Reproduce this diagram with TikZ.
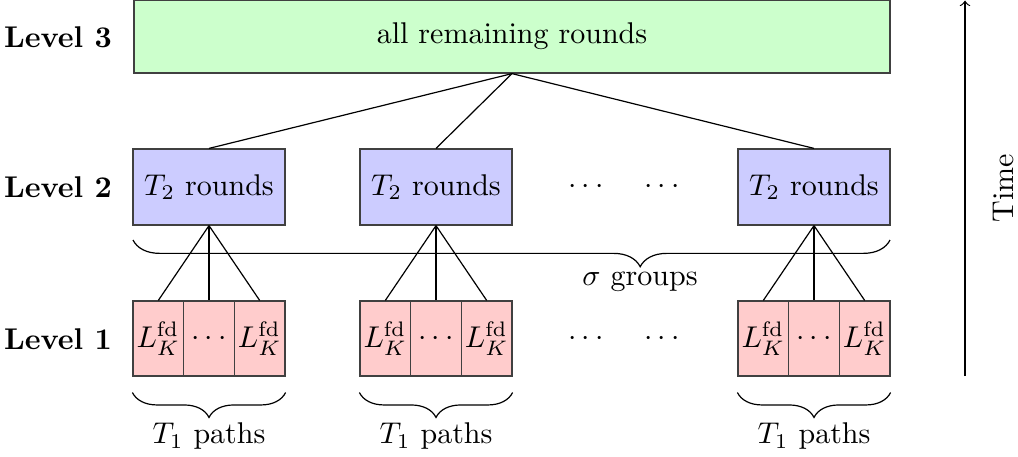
\documentclass[tikz,border=0pt]{standalone}
\usetikzlibrary{decorations.pathreplacing}
\begin{document}
\begin{tikzpicture}[x=0.3333pt,y=-0.3333pt,
  lvl/.style={font=\bfseries},
  boxbase/.style={draw=black!75, inner sep=0pt, line width=0.4pt},
  topbox/.style={boxbase, fill=green!20, minimum width=252pt, minimum height=24.33pt},
  midbox/.style={boxbase, fill=blue!20, minimum width=50.67pt, minimum height=25.33pt},
  subbox/.style={boxbase, fill=red!20, minimum width=16.89pt, minimum height=25pt},
  link/.style={draw=black, line width=0.4pt},
  bracedown/.style={decorate, decoration={brace, mirror, amplitude=#1}},
]
\useasboundingbox (0,0) rectangle (1018,456);

\node[lvl] (l3) at (58,37) {Level 3};
\node[lvl] (l2) at (58,187) {Level 2};
\node[lvl] (l1) at (58,339) {Level 1};

\node[topbox] (top) at (512,36.5) {all remaining rounds};

\foreach \g/\c in {a/209, b/436, c/814} {
  \node[midbox] (m\g) at (\c,187) {$T_2$ rounds};
  \node[subbox] (\g1) at (\c-50.67,338.5) {$L_K^{\mathrm{fd}}$};
  \node[subbox] (\g2) at (\c,338.5) {$\cdots$};
  \node[subbox] (\g3) at (\c+50.67,338.5) {$L_K^{\mathrm{fd}}$};
  \draw[link] (top.south) -- (m\g.north);
  \draw[link] (m\g.south) -- (\g1.north);
  \draw[link] (m\g.south) -- (\g2.north);
  \draw[link] (m\g.south) -- (\g3.north);
  \draw[bracedown=8.3pt] ([yshift=-5.3pt]\g1.south west) -- ([yshift=-5.3pt]\g3.south east);
  \node (p\g) at (\c,436) {$T_1$ paths};
}

\node (d2a) at (586,187) {$\cdots$};
\node (d2b) at (662,187) {$\cdots$};
\node (d1a) at (586,339) {$\cdots$};
\node (d1b) at (662,339) {$\cdots$};

\draw[decorate, decoration={brace, mirror, amplitude=8.9pt, aspect=0.67}]
  (133,240) -- (890,240);
\node (sg) at (640,282) {$\sigma$ groups};

\coordinate (tb) at (965,376);
\coordinate (tt) at (965,0.6);
\draw[->] (tb) -- (tt);
\node[rotate=90] (time) at (1003,188) {Time};
\end{tikzpicture}
\end{document}
